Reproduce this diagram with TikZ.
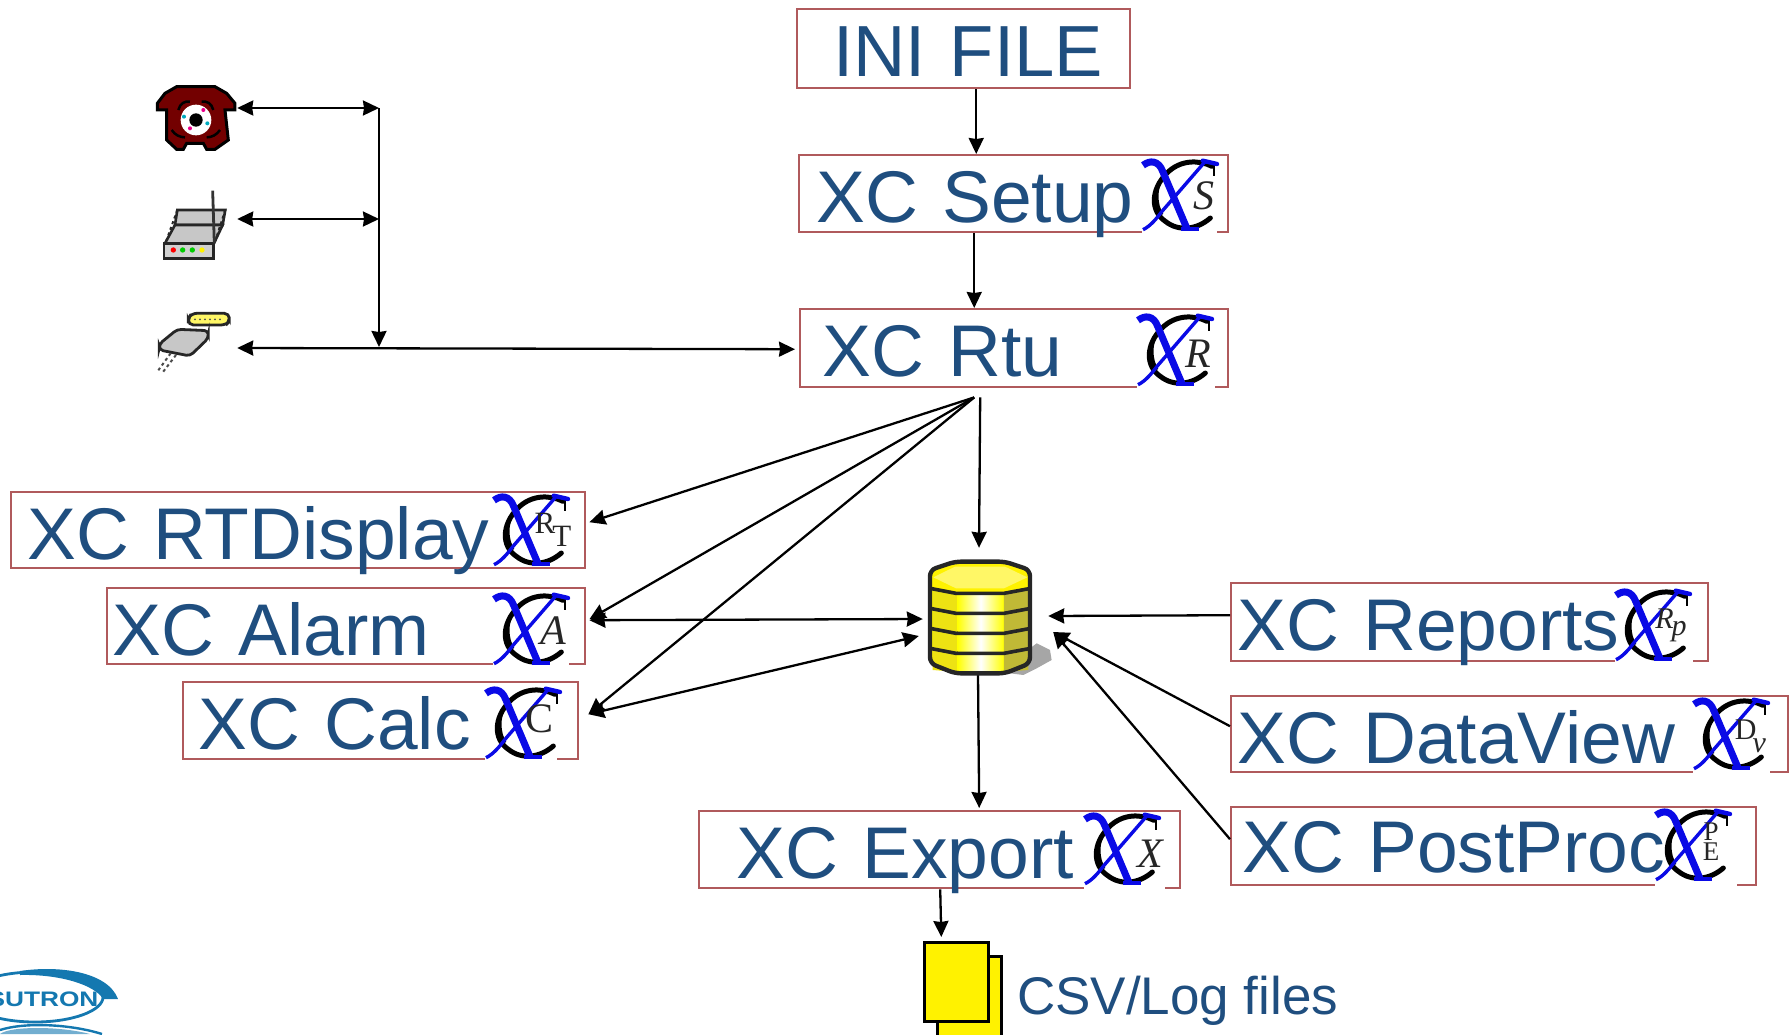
\documentclass[tikz,border=0pt]{standalone}
\usepackage{fontspec}
\setmainfont{Liberation Sans}
\newfontfamily\xcserif{Liberation Serif}
\usetikzlibrary{arrows.meta, positioning}
\definecolor{xcblue}{HTML}{1F4E7F}
\definecolor{xcline}{HTML}{B05A5C}
\definecolor{xcmark}{HTML}{0A0AE6}
\definecolor{sutron}{HTML}{1478B0}

\begin{document}
\begin{tikzpicture}[x=1pt,y=-1pt,
  xcbox/.style 2 args={rectangle, anchor=north west, inner sep=0pt, draw=xcline, line width=2.4pt, text=xcblue, font=\fontsize{73.2}{80}\selectfont, align=left, text width=#1pt, text height=67pt, text depth=#2pt},
  spot/.style={rectangle, minimum width=80pt, minimum height=90pt, inner sep=0pt},
  doc/.style={rectangle, draw=black, line width=2.6pt, fill=yellow, inner sep=0pt},
  arrow/.style={line width=2.3pt,->,>={Stealth[length=16pt,width=15pt,inset=1pt]}},
  twoway/.style={line width=2.3pt,<->,>={Stealth[length=16pt,width=15pt,inset=1pt]}}]

  \useasboundingbox (0,0) rectangle (1791,1034);
  \clip (0,0) rectangle (1791,1034);

  % Nodes
  \node (ini) [xcbox={333}{12}, font=\fontsize{72.4}{80}\selectfont] at (796,8) {\hspace*{36pt}INI FILE};
  \node (setup) [xcbox={429}{10}] at (798,154) {\hspace*{17pt}XC Setup};
  \node (rtu) [xcbox={428}{11}] at (799,308) {\hspace*{22pt}XC Rtu};
  \node (rtdisplay) [xcbox={574}{9}] at (10,491) {\hspace*{16pt}XC RTDisplay};
  \node (alarm) [xcbox={478}{9}] at (106,587) {\hspace*{5pt}XC Alarm};
  \node (calc) [xcbox={395}{10}] at (182,681) {\hspace*{15pt}XC Calc};
  \node (export) [xcbox={481}{10}] at (698,810) {\hspace*{37pt}XC Export};
  \node (reports) [xcbox={477}{11}] at (1230,582) {\hspace*{6pt}XC Reports};
  \node (dataview) [xcbox={557}{9}] at (1230,695) {\hspace*{6pt}XC DataView};
  \node (postproc) [xcbox={525}{13}, text height=65pt] at (1230,806) {\hspace*{11pt}XC PostProc};

  \node (phone) [spot] at (197,108) {};
  \node (router) [spot] at (197,219) {};
  \node (cable) [spot] at (197,348) {};
  \node (db) [rectangle, minimum width=104pt, minimum height=115pt, inner sep=0pt] at (980,617) {};
  \coordinate (phonejoin) at (379,108);
  \coordinate (routerjoin) at (379,219);
  \coordinate (busjoin) at (379,347);

  % gaps that the icons leave in the frames
  \foreach \xa/\xb/\yb in {1142/1217/231, 1137/1215/386, 493/569/663, 485/557/758, 1084/1165/887, 1615/1693/660, 1693/1770/771, 1655/1737/884}
    \draw [white, line width=4pt] (\xa,\yb) -- (\xb,\yb);

  % X-C icons
  \foreach \nm/\xa/\ya/\xl/\yl/\lab in {
      setupicon/1142/158/185/112/{\itshape S},
      rtuicon/1137/313/185/122/{\itshape R},
      rtdisplayicon/493/493/180/112/{\fontsize{31}{31}\selectfont R\kern-3pt\raisebox{-13pt}{T}},
      alarmicon/493/592/180/117/{\itshape A},
      calcicon/485/686/165/98/{C},
      exporticon/1084/812/198/126/{\itshape X},
      reportsicon/1615/588/168/112/{\itshape\fontsize{30}{30}\selectfont R\kern-2pt\raisebox{-7pt}{p}},
      dataviewicon/1693/697/172/118/{\fontsize{30}{30}\selectfont D\kern-4pt\raisebox{-13pt}{\itshape v}},
      postprocicon/1655/808/168/112/{\fontsize{27}{25}\selectfont\begin{tabular}{@{}c@{}}P\\[-5pt]E\end{tabular}}} {
    \begin{scope}[shift={(\xa,\ya)},x=0.3333pt,y=-0.3333pt]
      \draw [black, line width=5pt, line cap=round] (210,25) .. controls (170,5) and (115,5) .. (75,45) .. controls (25,95) and (25,160) .. (70,190) .. controls (110,222) and (165,215) .. (205,180);
      \draw [black, line width=3pt] (60,60) .. controls (40,90) and (40,140) .. (60,170);
      \draw [black, line width=2pt] (215,15) -- (215,55);
      \draw [xcmark, line width=7pt] (3,22) .. controls (25,5) and (50,8) .. (62,40) -- (135,212);
      \draw [xcmark, line width=3.4pt] (3,215) .. controls (25,205) and (45,180) .. (60,160) -- (190,10);
      \draw [xcmark, line width=4.4pt, line cap=round] (182,8) -- (225,18);
      \draw [xcmark, line width=4pt] (118,212) -- (172,212);
      \node (\nm) [inner sep=0pt, text=black!85, font=\xcserif\fontsize{42}{42}\selectfont] at (\xl,\yl) {\lab};
    \end{scope}
  }

  % Arrows
  \draw [arrow] ([xshift=12.5pt]ini.south) -- ([xshift=-37.5pt]setup.north);
  \draw [arrow] ([xshift=-39.5pt]setup.south) -- ([xshift=-40pt]rtu.north);
  \draw [twoway] (phone.east) -- (phonejoin);
  \draw [twoway] (router.east) -- (routerjoin);
  \draw [arrow] (phonejoin) -- (busjoin);
  \draw [twoway] (cable.east) -- ([xshift=-4pt,yshift=-1pt]rtu.west);
  \draw [arrow] ([xshift=-40pt,yshift=-9pt]rtu.south) -- ([xshift=3pt,yshift=8pt]rtdisplay.east);
  \draw [arrow] ([xshift=-40pt,yshift=-9pt]rtu.south) -- ([xshift=3pt,yshift=7pt]alarm.east);
  \draw [arrow] ([xshift=-40pt,yshift=-9pt]rtu.south) -- ([xshift=9pt,yshift=6.5pt]calc.east);
  \draw [arrow] ([xshift=-34pt,yshift=-9pt]rtu.south) -- ([xshift=-1pt,yshift=11.5pt]db.north);
  \draw [twoway] ([xshift=3pt,yshift=6pt]alarm.east) -- ([xshift=-5pt,yshift=-2pt]db.west);
  \draw [twoway] ([xshift=9pt,yshift=6.5pt]calc.east) -- ([xshift=-9pt,yshift=-19pt]db.west);
  \draw [arrow] ([yshift=7pt]reports.west) -- ([xshift=16pt,yshift=1pt]db.east);
  \draw [arrow] ([yshift=8pt]dataview.west) -- ([xshift=21pt,yshift=-15pt]db.east);
  \draw [arrow] ([yshift=7pt]postproc.west) -- ([xshift=21pt,yshift=-15pt]db.east);
  \draw [arrow] ([xshift=-2pt]db.south) -- ([xshift=39.5pt,yshift=2pt]export.north);

  % telephone
  \begin{scope}[shift={(100,60)},x=0.3333pt,y=-0.3333pt]
    \draw [black, line width=3pt, fill=red!45!black] (172,130) -- (195,100) -- (230,80) -- (345,80) -- (380,100) -- (405,130) -- (405,150) -- (375,150) -- (385,240) -- (345,268) -- (320,268) -- (310,250) -- (260,250) -- (250,268) -- (230,268) -- (200,240) -- (200,150) -- (172,150) -- cycle;
    \draw [black, line width=2.5pt] (235,150) .. controls (240,130) and (255,122) .. (270,125) (340,150) .. controls (335,130) and (320,122) .. (305,125) (215,210) .. controls (225,225) and (240,232) .. (255,232) (360,210) .. controls (350,225) and (335,232) .. (320,232);
    \fill [white] (288,180) circle (46);
    \fill [cyan!70!green] (252,170) circle (6) (322,190) circle (6);
    \fill [magenta] (270,205) circle (6) (310,150) circle (6);
    \fill [black] (288,180) circle (20);
  \end{scope}

  % router
  \begin{scope}[shift={(100,60)},x=0.3333pt,y=-0.3333pt]
    \draw [black!85, line width=2.6pt, fill=black!22] (232,450) -- (376,450) -- (368,495) -- (225,495) -- cycle;
    \draw [black!85, line width=2.6pt, fill=black!22] (225,495) -- (368,495) -- (342,550) -- (195,550) -- cycle;
    \draw [black!85, line width=2pt, dashed] (232,450) -- (198,545) (376,450) -- (345,545);
    \draw [black!85, line width=2.8pt, fill=black!18] (192,550) rectangle (340,595);
    \draw [black!80, line width=2.8pt] (338,392) -- (343,550);
    \fill [red] (220,570) circle (8);
    \fill [green!80!black] (248,570) circle (8) (277,570) circle (8);
    \fill [yellow] (306,570) circle (8);
  \end{scope}

  % cable and plug
  \begin{scope}[shift={(100,60)},x=0.3333pt,y=-0.3333pt]
    \draw [black!85, line width=2.8pt, fill=yellow!60!white, rounded corners=5pt] (275,760) -- (388,760) -- (388,785) -- (378,795) -- (265,795) -- (265,775) -- cycle;
    \foreach \xa in {285,300,...,365}
      \fill [black!70] (\xa,778) circle (3);
    \draw [black!85, line width=2.8pt, fill=black!22, rounded corners=4pt] (232,808) -- (325,812) -- (325,835) -- (270,888) -- (178,870) -- (178,852) -- cycle;
    \draw [black!70, line width=2pt, dashed] (212,880) -- (172,935) (228,885) -- (186,940);
  \end{scope}

  % database
  \begin{scope}[shift={(880,520)},x=0.3333pt,y=-0.3333pt]
    \fill [black!35] (430,400) -- (470,370) -- (510,390) -- (515,420) -- (470,445) -- (430,465) -- (390,460) -- cycle;
    \draw [black!85, line width=3pt, fill=yellow, rounded corners=6pt] (150,150) -- (225,125) -- (375,125) -- (450,150) -- (450,430) -- (375,460) -- (225,460) -- (150,430) -- cycle;
    \foreach \yb in {210,270,330,390} {
      \fill [yellow!92!black] (158,\yb) -- (232,\yb+12) -- (232,\yb+66) -- (158,\yb+60) -- cycle;
      \fill [left color=yellow, right color=yellow, middle color=white] (232,\yb+12) rectangle (372,\yb+66);
      \fill [yellow!72!black] (372,\yb+12) -- (445,\yb) -- (445,\yb+60) -- (372,\yb+66) -- cycle;
    }
    \fill [yellow!60!white] (160,172) -- (225,140) -- (375,140) -- (442,172) -- (372,205) -- (228,205) -- cycle;
    \foreach \yb in {210,270,330,390}
      \draw [black!85, line width=3.6pt] (155,\yb-4) -- (228,\yb+10) -- (372,\yb+10) -- (447,\yb-4);
    \draw [black!85, line width=4.4pt, rounded corners=6pt] (150,150) -- (225,125) -- (375,125) -- (450,150) -- (450,430) -- (375,460) -- (225,460) -- (150,430) -- cycle;
  \end{scope}

  % files
  \node (backdoc) [doc, minimum width=64pt, minimum height=100pt, anchor=north west] at (936,955) {};
  \node (files) [doc, minimum width=64pt, minimum height=79pt, anchor=north west] at (923,941) {};
  \node (filestext) [anchor=base west, inner sep=0pt, text=xcblue, font=\fontsize{53}{60}\selectfont] at (1017,1014) {CSV/Log files};
  \draw [arrow] ([xshift=0.5pt]export.south) -- ([xshift=-15pt,yshift=4pt]files.north);

  % logo
  \draw [sutron, line width=2.8pt] (35,997) ellipse (68 and 25);
  \fill [sutron] (20,971) .. controls (60,965) and (108,972) .. (118,999) -- (103,999) .. controls (95,985) and (60,974) .. (20,975) -- cycle;
  \node (logotext) [inner sep=0pt, xscale=1.25, text=sutron, font=\bfseries\fontsize{21}{21}\selectfont] at (43,999.5) {SUTRON};
  \fill [sutron!60!white] (0,1034) .. controls (10,1026) and (60,1026) .. (90,1034) -- cycle;
  \draw [sutron, line width=2.4pt] (0,1030) .. controls (25,1022) and (70,1024) .. (102,1034);
\end{tikzpicture}
\end{document}
